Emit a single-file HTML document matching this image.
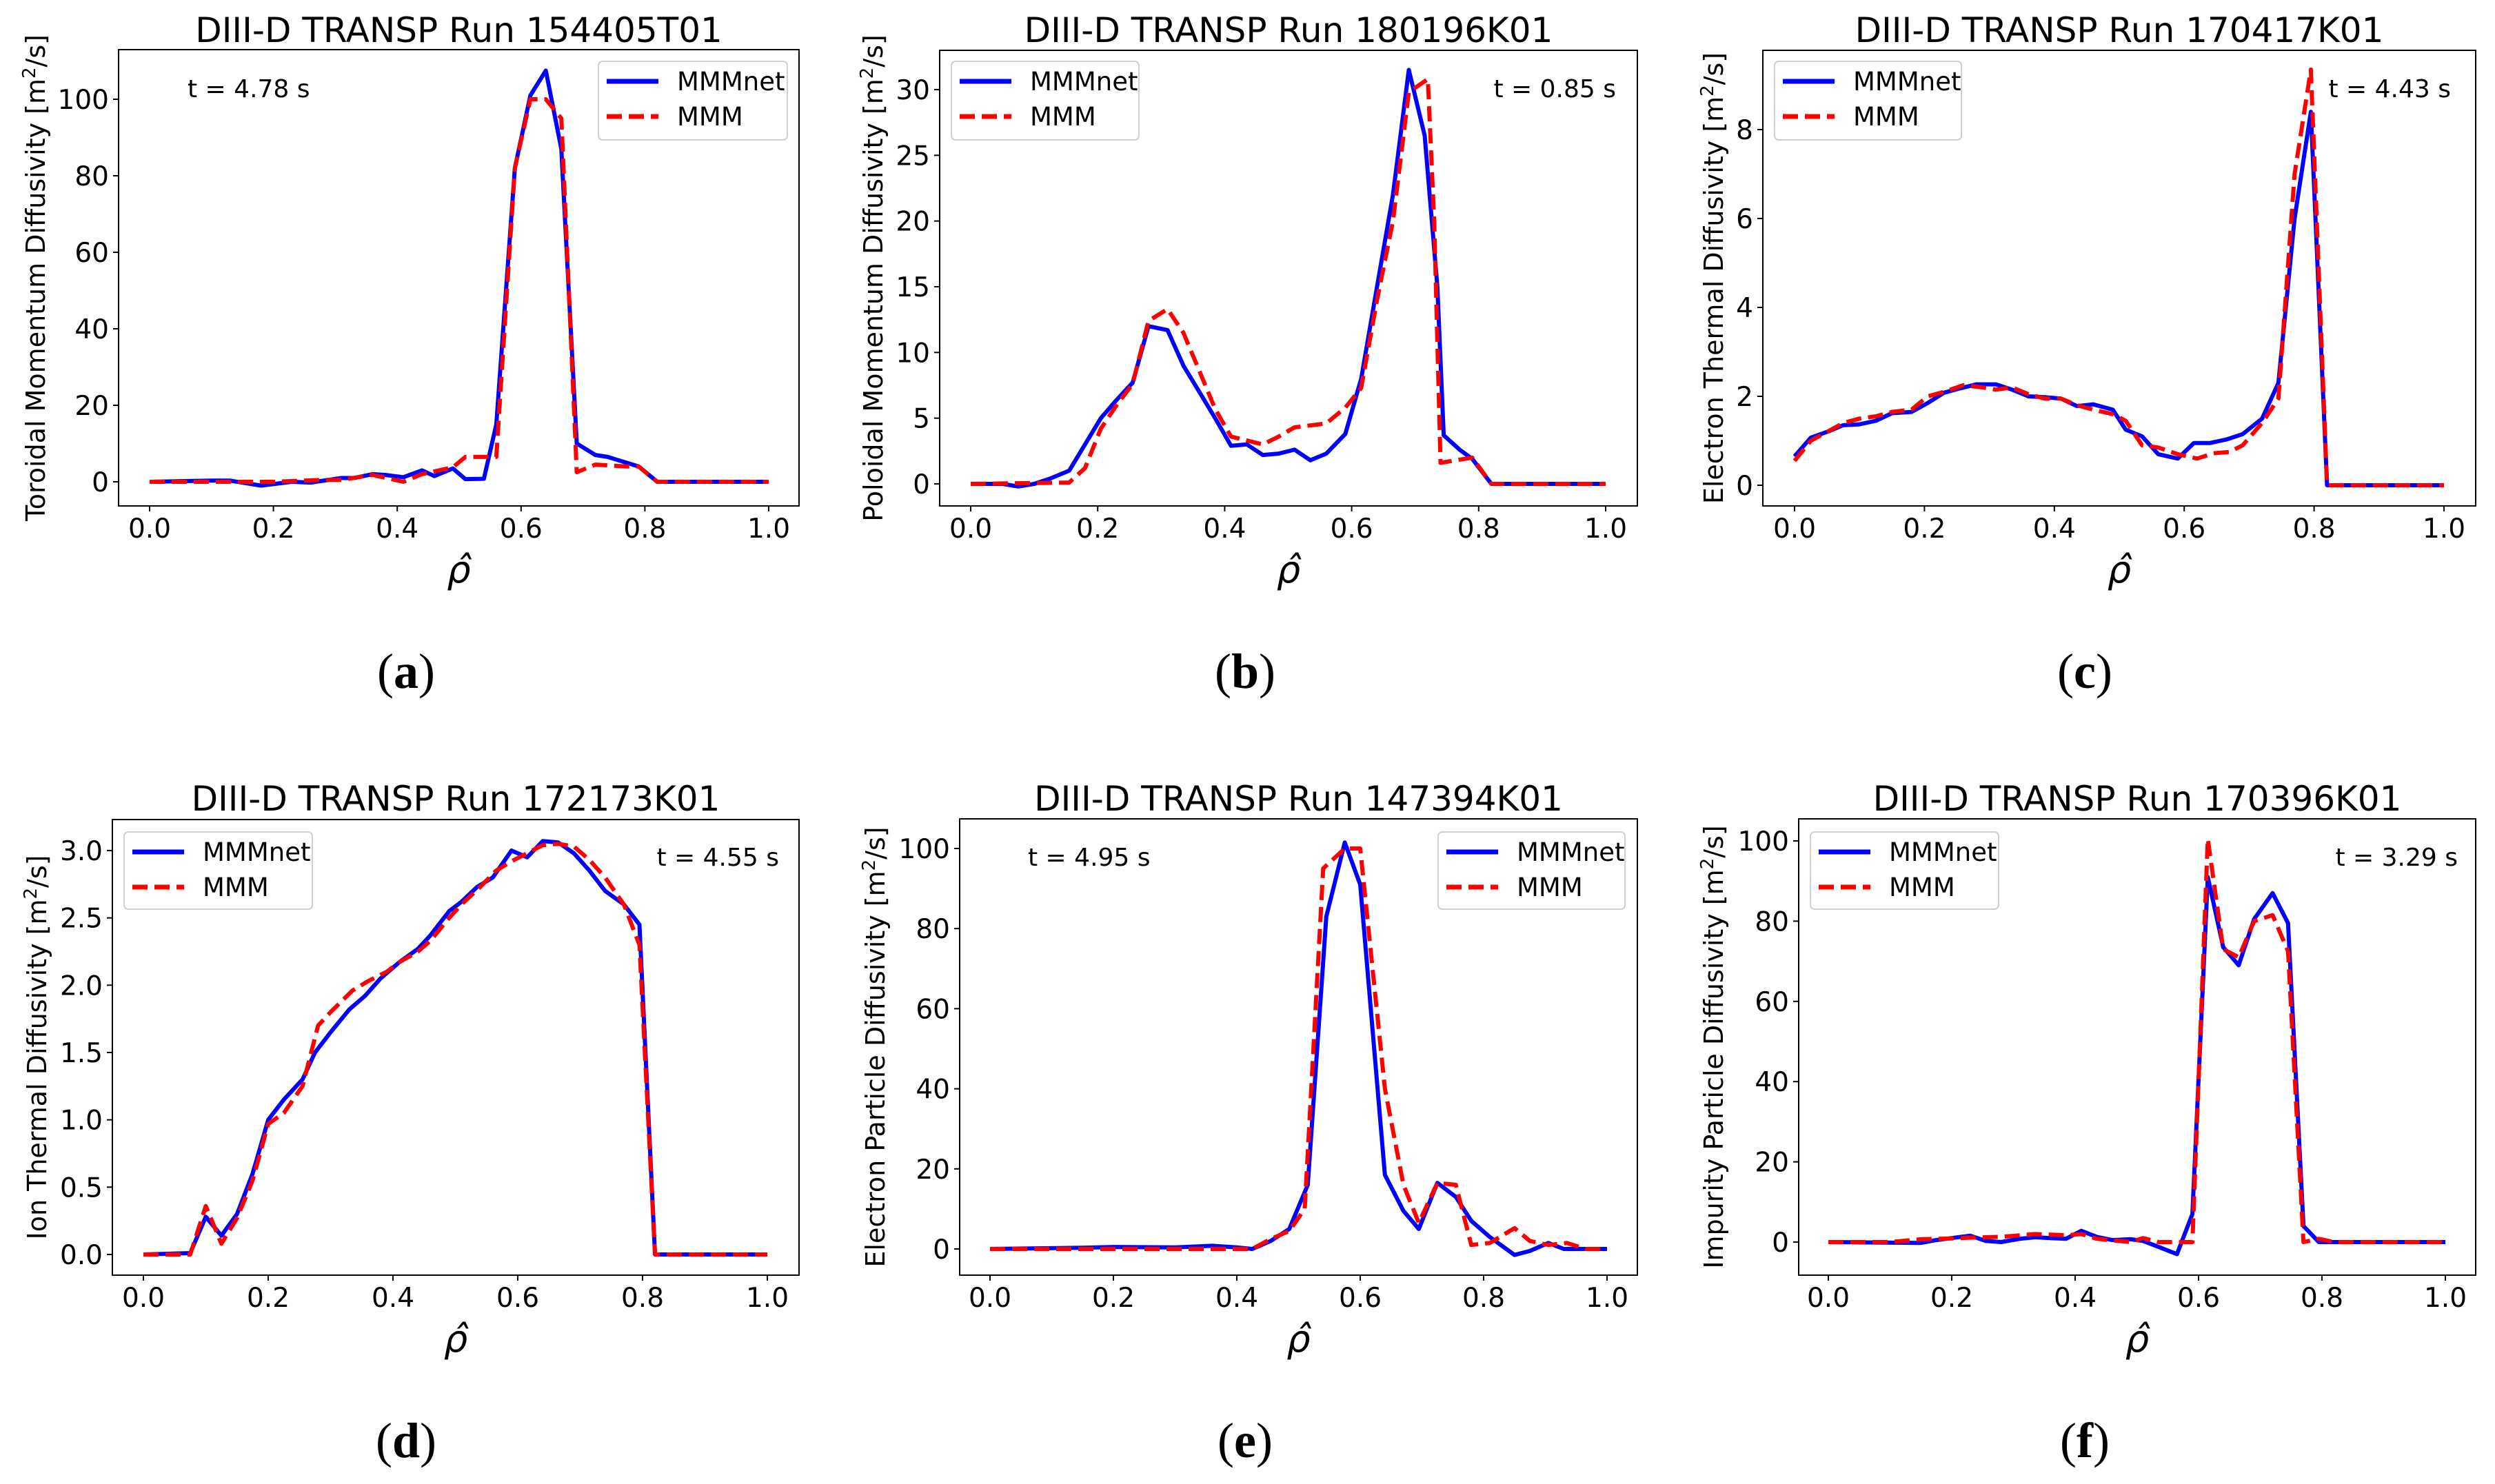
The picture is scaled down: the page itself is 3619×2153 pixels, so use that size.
<!DOCTYPE html>
<html><head><meta charset="utf-8">
<style>
html,body{margin:0;padding:0;background:#fff;}
svg{display:block;font-family:"DejaVu Sans","Liberation Sans",sans-serif;}
</style></head>
<body>
<svg id="fig" width="3619" height="2153" viewBox="0 0 3619 2153" xmlns="http://www.w3.org/2000/svg"></svg>
<script>
// ---- data (x = rho-hat, y = diffusivity) ----
const aNetX=[0,0.1,0.13,0.18,0.23,0.26,0.31,0.33,0.36,0.38,0.41,0.44,0.46,0.49,0.51,0.54,0.56,0.59,0.615,0.64,0.665,0.69,0.72,0.74,0.77,0.79,0.82,1];
const aNetY=[0,0.3,0.3,-1,0,-0.2,1,1,2,1.8,1.2,3,1.5,3.5,0.7,0.8,15,82,101,107.5,87,10,7,6.5,5,4,0,0];
const aMmmX=[0,0.2,0.28,0.31,0.36,0.41,0.44,0.49,0.51,0.56,0.59,0.615,0.64,0.665,0.69,0.72,0.77,0.79,0.82,1];
const aMmmY=[0,0,0.5,0.5,1.8,0,2,3.8,6.5,6.5,82,100,100,95,2.5,4.5,4,4,0,0];

const bNetX=[0,0.05,0.075,0.1,0.125,0.155,0.18,0.205,0.23,0.255,0.28,0.31,0.335,0.36,0.385,0.41,0.435,0.46,0.485,0.51,0.535,0.56,0.59,0.615,0.64,0.665,0.69,0.715,0.735,0.745,0.77,0.79,0.82,1];
const bNetY=[0,0,-0.2,0,0.4,1,3,5,6.4,7.7,12,11.7,9,7,5,2.9,3,2.2,2.3,2.6,1.8,2.3,3.8,8,15,22,31.5,26.5,15,3.7,2.6,1.9,0,0];
const bMmmX=[0,0.155,0.18,0.205,0.23,0.255,0.28,0.31,0.335,0.36,0.385,0.41,0.46,0.485,0.51,0.56,0.59,0.615,0.64,0.665,0.69,0.72,0.73,0.74,0.79,0.82,1];
const bMmmY=[0,0.1,1.2,4.2,6,7.6,12.4,13.3,11.5,8.6,5.7,3.6,3,3.6,4.3,4.6,5.8,7.3,14,20,29.8,30.8,20,1.6,2,0,0];

const cNetX=[0,0.025,0.05,0.075,0.1,0.125,0.15,0.18,0.205,0.23,0.255,0.28,0.31,0.335,0.36,0.385,0.41,0.435,0.46,0.49,0.51,0.535,0.56,0.59,0.615,0.64,0.665,0.69,0.72,0.745,0.77,0.795,0.82,1];
const cNetY=[0.65,1.07,1.2,1.35,1.37,1.45,1.62,1.65,1.85,2.08,2.18,2.27,2.27,2.15,2,1.98,1.95,1.78,1.82,1.7,1.25,1.1,0.7,0.6,0.95,0.95,1.03,1.15,1.5,2.3,6,8.4,0,0];
const cMmmX=[0,0.025,0.05,0.075,0.1,0.125,0.15,0.18,0.205,0.23,0.26,0.29,0.31,0.335,0.36,0.385,0.41,0.435,0.46,0.49,0.51,0.535,0.56,0.59,0.62,0.645,0.67,0.69,0.72,0.745,0.77,0.795,0.82,1];
const cMmmY=[0.55,1,1.2,1.4,1.5,1.55,1.65,1.7,2,2.1,2.25,2.2,2.15,2.2,2.05,1.95,1.95,1.8,1.7,1.6,1.45,0.9,0.85,0.7,0.6,0.72,0.75,0.9,1.4,1.95,7,9.35,0,0];

const dNetX=[0,0.075,0.1,0.125,0.15,0.175,0.2,0.225,0.255,0.275,0.3,0.33,0.355,0.38,0.41,0.44,0.46,0.49,0.51,0.535,0.56,0.59,0.615,0.64,0.665,0.69,0.715,0.74,0.77,0.795,0.82,1];
const dNetY=[0,0.01,0.28,0.14,0.3,0.6,1,1.15,1.3,1.5,1.65,1.82,1.92,2.05,2.17,2.27,2.37,2.55,2.62,2.73,2.8,3.0,2.95,3.07,3.06,2.98,2.85,2.7,2.6,2.45,0,0];
const dMmmX=[0,0.075,0.1,0.125,0.15,0.175,0.2,0.225,0.255,0.28,0.3,0.335,0.36,0.39,0.41,0.44,0.46,0.49,0.51,0.54,0.565,0.59,0.615,0.64,0.665,0.69,0.715,0.74,0.77,0.795,0.82,1];
const dMmmY=[0,0,0.36,0.08,0.27,0.55,0.97,1.05,1.25,1.7,1.8,1.96,2.03,2.1,2.17,2.25,2.33,2.5,2.6,2.73,2.85,2.92,2.98,3.04,3.05,3.03,2.93,2.8,2.6,2.3,0,0];

const eNetX=[0,0.15,0.2,0.3,0.36,0.4,0.425,0.455,0.485,0.515,0.545,0.575,0.6,0.64,0.67,0.695,0.725,0.755,0.78,0.81,0.85,0.875,0.905,0.93,1];
const eNetY=[0,0.3,0.5,0.4,0.8,0.4,0,2,5,16,83,101.5,91,18.5,9.5,5,16.5,13,7,3,-1.5,-0.5,1.5,0,0];
const eMmmX=[0,0.425,0.455,0.485,0.51,0.54,0.575,0.6,0.64,0.67,0.695,0.725,0.755,0.78,0.81,0.85,0.875,0.905,0.935,0.965,1];
const eMmmY=[0,0,2.5,4.5,10,95,100,100,40,16,6.5,16.5,16,1,1.5,5.2,2,1,1.5,0,0];

const fNetX=[0,0.15,0.175,0.2,0.23,0.255,0.28,0.31,0.335,0.36,0.385,0.41,0.435,0.46,0.49,0.51,0.54,0.565,0.59,0.615,0.64,0.665,0.69,0.72,0.745,0.77,0.795,1];
const fNetY=[0,-0.2,0.5,1,1.6,0.3,0,0.8,1.2,1,0.8,2.8,1.3,0.5,0.7,0.3,-1.5,-3,7,91,73.5,69,80.5,87,79.5,4,0,0];
const fMmmX=[0,0.1,0.15,0.2,0.23,0.28,0.335,0.385,0.41,0.435,0.49,0.51,0.535,0.59,0.615,0.64,0.665,0.69,0.72,0.745,0.77,0.795,0.82,1];
const fMmmY=[0,0,0.7,0.9,1.1,1.3,2,1.7,2,0.8,0,1,0,0,100.5,73,71,80,81.5,72.5,0,0.8,0,0];

const xTicks=[0,0.2,0.4,0.6,0.8,1.0];
const xTickLabels=["0.0","0.2","0.4","0.6","0.8","1.0"];
const yTicks100=[0,20,40,60,80,100];
const yTicksB=[0,5,10,15,20,25,30];
const yTicksC=[0,2,4,6,8];
const yTicksD=[0,0.5,1,1.5,2,2.5,3];
const yTickLabelsD=["0.0","0.5","1.0","1.5","2.0","2.5","3.0"];

const NS="http://www.w3.org/2000/svg";
const svg=document.getElementById('fig');
function mk(tag,attrs,parent){const e=document.createElementNS(NS,tag);for(const k in attrs)e.setAttribute(k,attrs[k]);(parent||svg).appendChild(e);return e;}

const panels=[
 {id:'a',L:172,R:1159,T:72,B:734,x0:217,x1:1115,yv0:0,yp0:699,yv1:100,yp1:144,title:'DIII-D TRANSP Run 154405T01',ylab:'Toroidal Momentum Diffusivity [m',ylx:52,yt:yTicks100,ytl:null,net:[aNetX,aNetY],mmm:[aMmmX,aMmmY],leg:[868,89,1142,203],t:'t = 4.78 s',tx:272,ta:'start',ty:141,tb:61,rb:845,cb:998,cx:589,cap:'a'},
 {id:'b',L:1363,R:2375,T:73,B:734,x0:1408,x1:2329,yv0:0,yp0:702,yv1:30,yp1:130,title:'DIII-D TRANSP Run 180196K01',ylab:'Poloidal Momentum Diffusivity [m',ylx:1267,yt:yTicksB,ytl:null,net:[bNetX,bNetY],mmm:[bMmmX,bMmmY],leg:[1380,89,1652,203],t:'t = 0.85 s',tx:2344,ta:'end',ty:141,tb:61,rb:845,cb:998,cx:1806,cap:'b'},
 {id:'c',L:2557,R:3591,T:73,B:734,x0:2603,x1:3545,yv0:0,yp0:704,yv1:8,yp1:188,title:'DIII-D TRANSP Run 170417K01',ylab:'Electron Thermal Diffusivity [m',ylx:2486,yt:yTicksC,ytl:null,net:[cNetX,cNetY],mmm:[cMmmX,cMmmY],leg:[2574,89,2845,203],t:'t = 4.43 s',tx:3555,ta:'end',ty:141,tb:61,rb:845,cb:998,cx:3024,cap:'c'},
 {id:'d',L:163,R:1159,T:1189,B:1850,x0:208,x1:1113,yv0:0,yp0:1820,yv1:3,yp1:1234,title:'DIII-D TRANSP Run 172173K01',ylab:'Ion Thermal Diffusivity [m',ylx:54,yt:yTicksD,ytl:yTickLabelsD,net:[dNetX,dNetY],mmm:[dMmmX,dMmmY],leg:[180,1207,453,1319],t:'t = 4.55 s',tx:1130,ta:'end',ty:1256,tb:1176,rb:1961,cb:2114,cx:589,cap:'d'},
 {id:'e',L:1392,R:2375,T:1188,B:1850,x0:1436,x1:2331,yv0:0,yp0:1812,yv1:100,yp1:1231,title:'DIII-D TRANSP Run 147394K01',ylab:'Electron Particle Diffusivity  [m',ylx:1270,yt:yTicks100,ytl:null,net:[eNetX,eNetY],mmm:[eMmmX,eMmmY],leg:[2086,1207,2357,1319],t:'t = 4.95 s',tx:1491,ta:'start',ty:1256,tb:1176,rb:1961,cb:2114,cx:1806,cap:'e'},
 {id:'f',L:2609,R:3591,T:1188,B:1850,x0:2652,x1:3547,yv0:0,yp0:1802,yv1:100,yp1:1220,title:'DIII-D TRANSP Run 170396K01',ylab:'Impurity Particle Diffusivity [m',ylx:2486,yt:yTicks100,ytl:null,net:[fNetX,fNetY],mmm:[fMmmX,fMmmY],leg:[2626,1207,2899,1319],t:'t = 3.29 s',tx:3565,ta:'end',ty:1256,tb:1176,rb:1961,cb:2114,cx:3024,cap:'f'}
];

panels.forEach(p=>{
  const g=mk('g',{});
  
  
  const sx=v=>p.x0+(v)*(p.x1-p.x0);
  const sy=v=>p.yp0+(v-p.yv0)*(p.yp1-p.yp0)/(p.yv1-p.yv0);
  const ti=mk('text',{x:(p.L+p.R)/2,y:p.tb,'text-anchor':'middle','font-size':50,fill:'#000'},g);
  ti.textContent=p.title;
  
  
  function line(arr,color,dash,name){
    let d='';
    for(let i=0;i<arr[0].length;i++){d+=(i?'L':'M')+sx(arr[0][i]).toFixed(1)+' '+sy(arr[1][i]).toFixed(1);}
    const a={d:d,fill:'none',stroke:color,'stroke-width':6,'stroke-linejoin':'round'};
    if(dash)a['stroke-dasharray']=dash;
    const e=mk('path',a,g);
    
    
  }
  line(p.net,'#0000ff',null,'mmmnet-line');
  line(p.mmm,'#ff0000','22 10','mmm-line');
  const fr=mk('rect',{x:p.L,y:p.T,width:p.R-p.L,height:p.B-p.T,fill:'none',stroke:'#000','stroke-width':2},g);
  
  
  xTicks.forEach((v,i)=>{
    const X=sx(v);
    mk('line',{x1:X,y1:p.B,x2:X,y2:p.B+8,stroke:'#000','stroke-width':2},g);
    const t=mk('text',{x:X,y:p.B+46,'text-anchor':'middle','font-size':39},g);
    t.textContent=xTickLabels[i];
    
    
  });
  p.yt.forEach((v,i)=>{
    const Y=sy(v);
    mk('line',{x1:p.L-8,y1:Y,x2:p.L,y2:Y,stroke:'#000','stroke-width':2},g);
    const t=mk('text',{x:p.L-14,y:Y+14,'text-anchor':'end','font-size':39},g);
    t.textContent=p.ytl?p.ytl[i]:String(v);
    
    
  });
  const cy=(p.T+p.B)/2;
  const yl=mk('text',{x:0,y:0,'text-anchor':'middle','font-size':38,transform:'translate('+(p.ylx+13)+','+cy+') rotate(-90)'},g);
  
  
  yl.appendChild(document.createTextNode(p.ylab));
  const sup=mk('tspan',{dy:-14,'font-size':26},yl);sup.textContent='2';
  const rest=mk('tspan',{dy:14},yl);rest.textContent='/s]';
  const xl=mk('text',{x:(p.L+p.R)/2,y:p.rb,'text-anchor':'middle','font-size':54,'font-style':'italic'},g);
  xl.textContent='ρ̂';
  
  
  const cp=mk('text',{x:p.cx,y:p.cb,'text-anchor':'middle','font-size':72,'font-family':'Liberation Serif, serif'},g);
  
  
  cp.appendChild(document.createTextNode('('));
  const bb=mk('tspan',{'font-weight':'bold'},cp);bb.textContent=p.cap;
  cp.appendChild(document.createTextNode(')'));
  const tt=mk('text',{x:p.tx,y:p.ty,'text-anchor':p.ta,'font-size':36},g);
  tt.textContent=p.t;
  
  
  const [lx0,ly0,lx1,ly1]=p.leg;
  const lg=mk('g',{},g);
  
  
  mk('rect',{x:lx0,y:ly0,width:lx1-lx0,height:ly1-ly0,rx:6,fill:'#fff','fill-opacity':0.8,stroke:'#d0d0d0','stroke-width':2},lg);
  const r1=ly0+29, r2=ly0+80;
  mk('line',{x1:lx0+12,y1:r1,x2:lx0+87,y2:r1,stroke:'#0000ff','stroke-width':7},lg);
  mk('line',{x1:lx0+12,y1:r2,x2:lx0+87,y2:r2,stroke:'#ff0000','stroke-width':7,'stroke-dasharray':'22 10'},lg);
  const e1=mk('text',{x:lx0+114,y:r1+13,'font-size':37},lg);e1.textContent='MMMnet';
  
  
  const e2=mk('text',{x:lx0+114,y:r2+13,'font-size':37},lg);e2.textContent='MMM';
  
  
});
</script>
</body></html>
